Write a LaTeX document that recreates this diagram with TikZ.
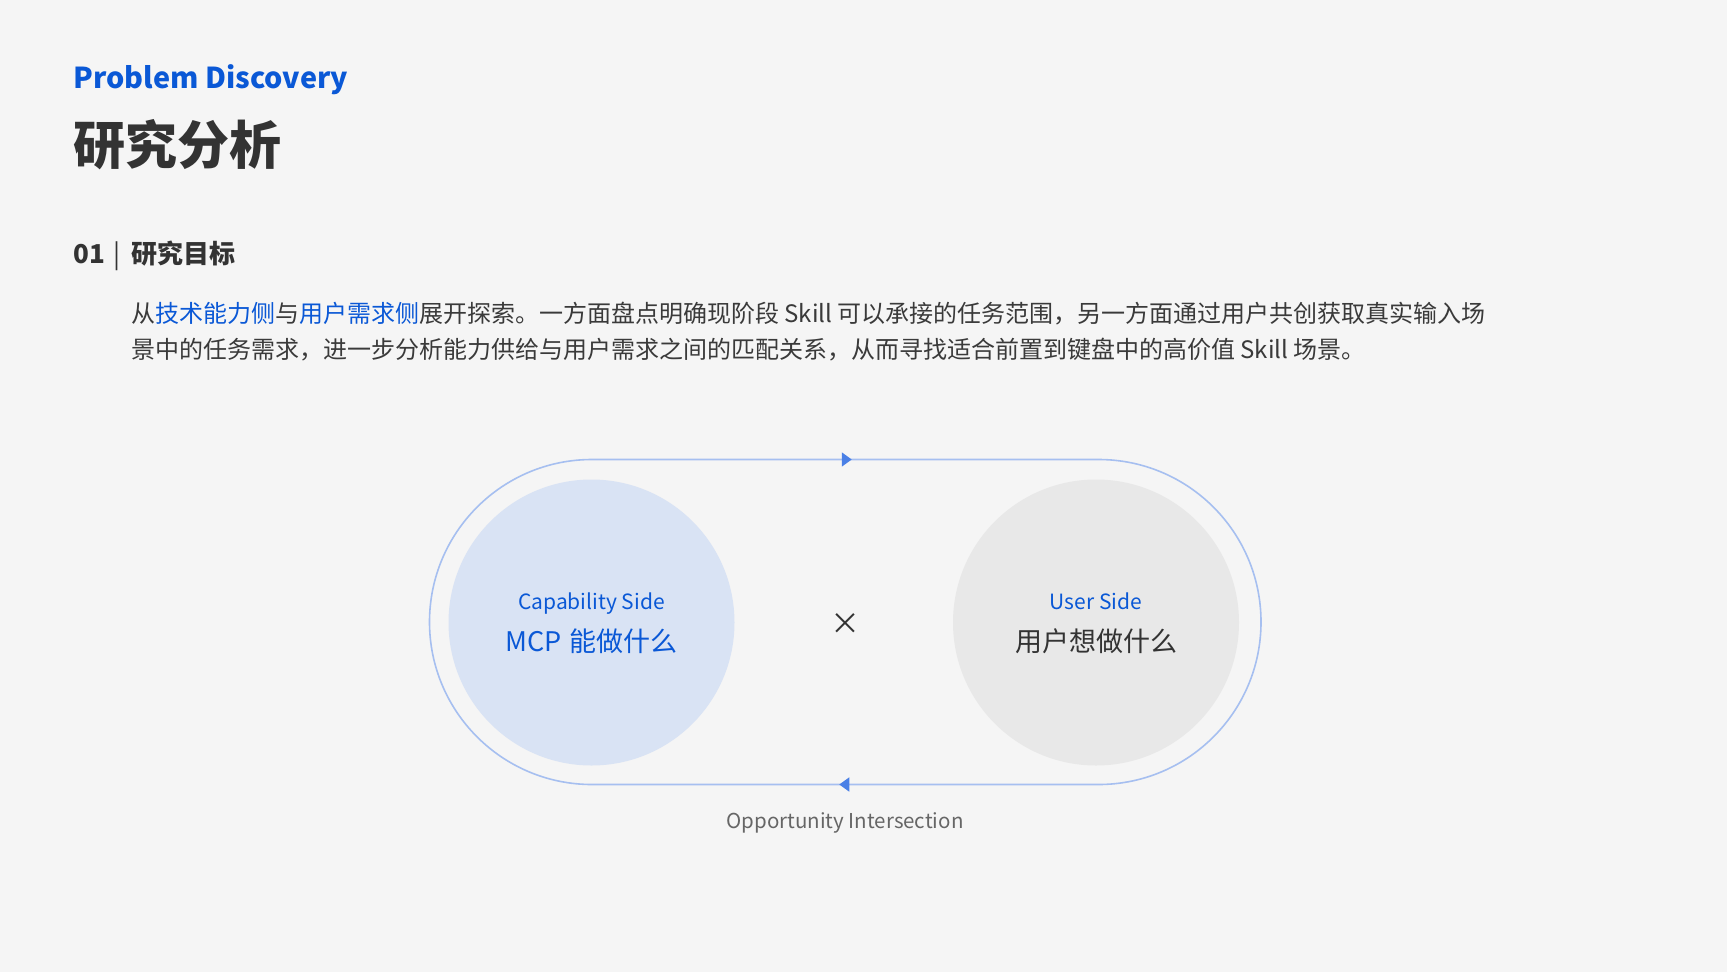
\documentclass[tikz,border=0pt]{standalone}
\usepackage{fontspec}
\setmainfont{Noto Sans CJK SC}
\usetikzlibrary{arrows.meta,shapes.misc}

\definecolor{bgcol}{HTML}{F5F5F5}
\definecolor{brandblue}{HTML}{0A58D6}
\definecolor{darktext}{HTML}{333333}
\definecolor{bodygray}{HTML}{3A3A3A}
\definecolor{capfill}{HTML}{D9E3F4}
\definecolor{userfill}{HTML}{E8E8E8}
\definecolor{loopblue}{HTML}{A6BFF0}
\definecolor{arrowblue}{HTML}{4A80E6}
\definecolor{notegray}{HTML}{666666}

\newcommand{\keyterm}[1]{\textcolor{brandblue}{#1}}

\begin{document}
\begin{tikzpicture}[x=1pt, y=-1pt,
kicker/.style={anchor=base west, inner sep=0pt, text=brandblue, font=\fontsize{28.8}{34}\selectfont\bfseries},
heading/.style={anchor=base west, inner sep=0pt, text=darktext, font=\fontsize{52}{60}\selectfont\bfseries},
subheading/.style={anchor=base west, inner sep=0pt, text=darktext, font=\fontsize{26}{30}\selectfont\bfseries},
bodytext/.style={anchor=base west, inner sep=0pt, text=bodygray, font=\fontsize{24}{36}\selectfont},
capcircle/.style={circle, fill=capfill, minimum size=286pt, inner sep=0pt},
usercircle/.style={circle, fill=userfill, minimum size=286pt, inner sep=0pt},
loopbox/.style={rounded rectangle, draw=loopblue, line width=1.6pt, minimum width=831.5pt, minimum height=325pt, inner sep=0pt, outer sep=0pt},
looparrow/.style={draw=loopblue, line width=1.6pt, -{Triangle[length=10pt, width=14pt, color=arrowblue]}},
sidetag/.style={anchor=base, inner sep=0pt, text=brandblue, font=\fontsize{21}{25}\selectfont},
sidequestion/.style={anchor=base, inner sep=0pt, font=\fontsize{27}{32}\selectfont},
crosssign/.style={inner sep=0pt, text=darktext, font=\fontsize{30}{30}\selectfont},
looplabel/.style={anchor=base, inner sep=0pt, text=notegray, font=\fontsize{20.5}{24}\selectfont},
]
\fill[bgcol] (0,0) rectangle (1727,972);
\useasboundingbox (0,0) rectangle (1727,972);

\node[kicker] (kicker) at (73.5,88) {Problem Discovery};
\node[heading] (title) at (73.5,164) {研究分析};
\node[subheading] (goal) at (73,263) {01\hspace{9pt}{\mdseries|}\hspace{11pt}研究目标};
\node[bodytext] (line1) at (131,322) {从\keyterm{技术能力侧}与\keyterm{用户需求侧}展开探索。一方面盘点明确现阶段 Skill 可以承接的任务范围，另一方面通过用户共创获取真实输入场};
\node[bodytext] (line2) at (131,358) {景中的任务需求，进一步分析能力供给与用户需求之间的匹配关系，从而寻找适合前置到键盘中的高价值 Skill 场景。};

\node[loopbox] (loop) at (845.25,622) {};
\node[capcircle] (cap) at (591.5,622.5) {};
\node[usercircle] (user) at (1096,622.5) {};

\draw[looparrow] ([xshift=-30pt]loop.north) -- ([xshift=6.5pt]loop.north);
\draw[looparrow] ([xshift=30pt]loop.south) -- ([xshift=-6pt]loop.south);

\node[sidetag] (captag) at (591.5,609.5) {Capability Side};
\node[sidequestion, text=brandblue] (capq) at (591.5,651.5) {MCP\hspace{2pt} 能做什么};
\node[sidetag] (usertag) at (1096,609.5) {User Side};
\node[sidequestion, text=darktext] (userq) at (1096,651.5) {用户想做什么};
\node[crosssign] (times) at (845,624) {×};
\node[looplabel] (note) at (845,828) {Opportunity Intersection};
\end{tikzpicture}
\end{document}
